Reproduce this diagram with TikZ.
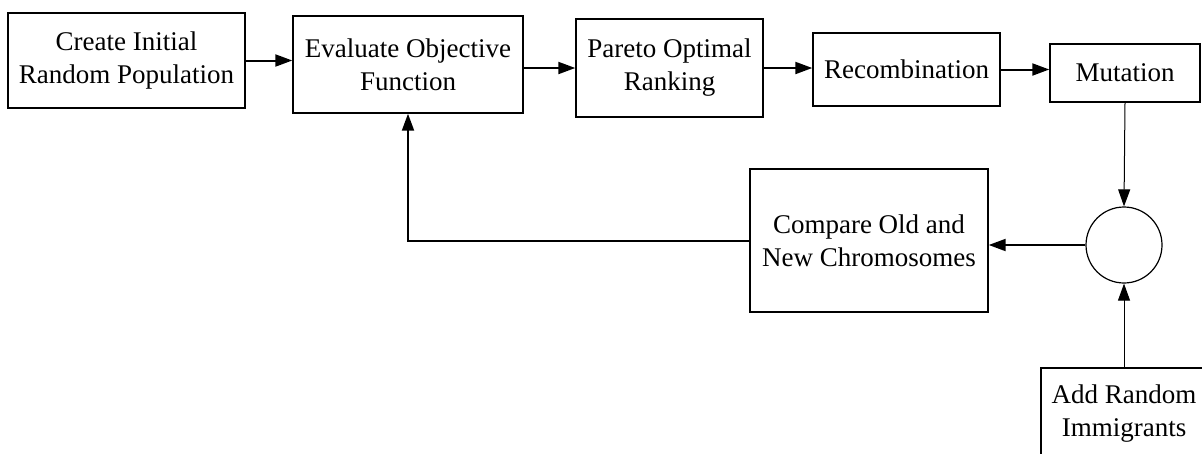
\documentclass[tikz,border=0pt]{standalone}
\usepackage{fontspec}
\setmainfont{Liberation Serif}
\usetikzlibrary{arrows.meta}
\begin{document}
\begin{tikzpicture}[x=1pt,y=-1pt,
  box/.style={draw, line width=1.4pt, rectangle, inner sep=0pt, align=center,
    font=\fontsize{27}{33}\selectfont},
  flow/.style={line width=2pt, -{Triangle[length=17pt,width=12pt]}},
  thin/.style={line width=1pt, -{Triangle[length=17pt,width=12pt]}}]
\useasboundingbox (0,0) rectangle (1202,453);
\fill[white] (0,0) rectangle (1202,453);
\clip (0,0) rectangle (1202,453);
\node[box, minimum width=237pt, minimum height=95pt] (b1) at (126.5,60.5) {Create Initial\\Random Population};
\node[box, minimum width=230pt, minimum height=97pt] (b2) at (408,64.5) {Evaluate Objective\\Function};
\node[box, minimum width=187pt, minimum height=98pt] (b3) at (669.5,68) {Pareto Optimal\\Ranking};
\node[box, minimum width=187pt, minimum height=73pt] (b4) at (906.5,69.5) {Recombination};
\node[box, minimum width=150pt, minimum height=58pt] (b5) at (1125,73) {Mutation};
\node[box, minimum width=238pt, minimum height=143pt] (cmp) at (869,240.5) {Compare Old and\\New Chromosomes};
\node[draw, line width=1.2pt, circle, minimum size=76pt, inner sep=0pt] (c) at (1124,245) {};
\node[box, minimum width=166pt, minimum height=92pt] (imm) at (1124,414) {Add Random\\Immigrants};
\draw[flow] (b1.east) -- (b1.east -| b2.west);
\draw[flow] (b3.west -| b2.east) -- (b3.west);
\draw[flow] (b3.east) -- (b3.east -| b4.west);
\draw[flow] (b4.east) -- (b4.east -| b5.west);
\draw[thin] (b5.south) -- (c.north);
\draw[thin] (imm.north) -- (c.south);
\draw[flow] (c.west) -- (c.west -| cmp.east);
\draw[flow] (cmp.west) -| (b2.south);
\end{tikzpicture}
\end{document}
